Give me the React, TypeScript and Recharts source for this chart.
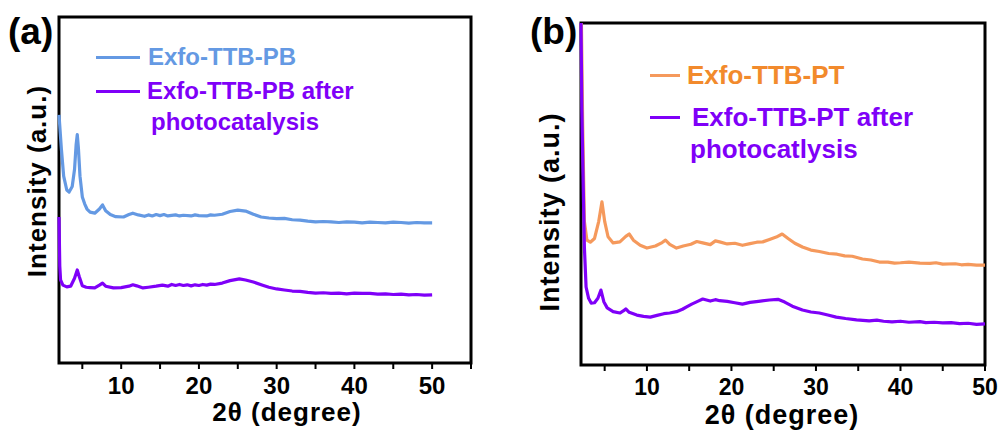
import React from "react";
import { LineChart, Line, XAxis, YAxis, ReferenceArea } from "recharts";

const FONT = "'Liberation Sans', Arial, sans-serif";

// panel (a): Exfo-TTB-PB
const pbX = [2.0, 2.3, 2.6, 3.0, 3.3, 3.7, 4.0, 4.2, 4.35, 4.5, 4.7, 5.0, 5.3, 5.6, 6.0, 6.6, 7.2, 7.6, 8.0, 8.6, 9.3, 10.3, 11.0, 11.5, 12.2, 13, 13.5, 14, 14.5, 15, 15.5, 16, 17, 17.5, 18, 19, 19.5, 20, 21, 21.5, 22, 23, 24, 25, 26, 27, 28, 29, 30, 31, 32, 33, 34, 35, 36, 37, 38, 39, 40, 41, 42, 43, 44, 45, 46, 47, 48, 49, 50];
const pbY = [71.7, 62, 54, 50, 49.4, 51, 56, 63, 66, 62, 54, 48, 46, 44.5, 43.6, 43.3, 44.5, 45.7, 44, 42.9, 42.3, 42.2, 42.9, 43.3, 42.8, 42.4, 42.8, 42.5, 42.9, 42.6, 42.9, 42.5, 42.8, 42.5, 42.7, 42.5, 42.8, 42.6, 42.5, 42.8, 42.7, 43.0, 43.8, 44.2, 43.9, 43.0, 42.2, 41.9, 41.7, 41.8, 41.4, 41.3, 41.0, 40.8, 40.9, 40.8, 40.6, 40.8, 40.7, 40.5, 40.7, 40.6, 40.5, 40.7, 40.6, 40.4, 40.6, 40.5, 40.5];

const pbAfterX = [2.0, 2.05, 2.1, 2.2, 2.5, 3.0, 3.5, 4.0, 4.35, 4.6, 5.0, 5.5, 6.0, 6.6, 7.2, 7.6, 8.0, 9.0, 10, 11.0, 11.5, 12.0, 12.8, 13.5, 14.5, 15.3, 16, 16.5, 17, 17.5, 18, 18.5, 19, 19.5, 20, 20.5, 21, 21.5, 22, 23, 24, 25.2, 26, 27, 28.2, 29, 30, 31, 32, 33, 34, 35, 36, 37, 38, 39, 40, 41, 42, 43, 44, 45, 46, 47, 48, 49, 50];
const pbAfterY = [42.2, 35, 28, 24, 22.5, 22.0, 22.2, 24.5, 26.9, 25, 22.3, 21.9, 21.8, 21.7, 22.5, 23.1, 22.2, 21.7, 21.8, 22.2, 22.6, 22.3, 21.7, 21.9, 22.2, 22.5, 22.2, 22.7, 22.4, 22.7, 22.4, 22.6, 22.3, 22.6, 22.4, 22.7, 22.5, 22.8, 22.7, 23.1, 23.8, 24.3, 24.0, 23.4, 22.5, 21.9, 21.4, 21.1, 20.8, 20.7, 20.4, 20.2, 20.3, 20.1, 20.2, 20.0, 20.2, 20.1, 20.1, 19.9, 20.0, 19.8, 19.9, 19.7, 19.8, 19.6, 19.7];

// panel (b): Exfo-TTB-PT
const ptX = [2.25, 2.4, 2.6, 2.9, 3.3, 3.8, 4.3, 4.68, 5.0, 5.4, 6.0, 6.8, 7.5, 7.9, 8.4, 9.2, 10, 11, 11.8, 12.2, 12.7, 13.5, 14.3, 15.2, 15.9, 16.6, 17.5, 18.1, 18.6, 19.5, 20.4, 21.3, 22.2, 23, 23.7, 24.5, 25.3, 26, 26.7, 27.5, 28.4, 29.4, 30.4, 31.5, 32.5, 33.4, 34.3, 35.5, 36.5, 37.5, 38.5, 39.3, 40, 41, 42.3, 43.5, 44.2, 45, 46.5, 47.2, 48, 49, 50];
const ptY = [100, 70, 42, 36.5, 35.9, 37, 42, 47.7, 42, 37.5, 35.7, 36, 37.6, 38.3, 36.5, 35, 34.2, 34.8, 35.8, 36.5, 35.3, 34.2, 34.8, 35.3, 36.1, 35.7, 35.2, 36.3, 36.0, 35.4, 35.6, 35.0, 35.5, 35.9, 36.0, 36.7, 37.4, 38.3, 37.0, 35.6, 34.5, 33.6, 33.2, 32.6, 32.4, 31.9, 31.8, 31.0, 30.7, 30.1, 30.1, 29.8, 29.9, 30.1, 29.8, 29.7, 29.9, 29.5, 29.6, 29.3, 29.4, 29.2, 29.2];

const ptAfterX = [2.2, 2.3, 2.45, 2.6, 2.8, 3.1, 3.4, 3.8, 4.2, 4.56, 4.9, 5.3, 6.0, 6.8, 7.2, 7.5, 7.9, 8.8, 9.6, 10.4, 11.2, 12, 12.7, 13.5, 14.2, 14.7, 15.3, 16, 16.6, 17.5, 18.1, 18.6, 19.5, 20.4, 21.3, 22.2, 23.2, 24.5, 25.5, 26.3, 27.2, 28.4, 29.4, 30.4, 31.4, 32.4, 33.5, 34.8, 36.3, 37.2, 38, 39, 40, 41, 42.3, 43, 44, 45, 46, 47, 48, 49, 50];
const ptAfterY = [100, 75, 54, 34.5, 22.8, 19.5, 18.1, 18.2, 19.5, 21.9, 18.5, 16.7, 15.6, 15.2, 15.8, 16.4, 15.4, 14.6, 14.2, 14.0, 14.5, 15.0, 15.2, 15.6, 16.3, 17.0, 17.8, 18.6, 19.3, 18.7, 19.1, 18.8, 18.6, 18.2, 17.8, 18.3, 18.6, 19.0, 19.2, 18.4, 17.2, 16.1, 15.5, 15.2, 14.6, 14.0, 13.6, 13.2, 12.9, 13.1, 12.8, 12.6, 12.8, 12.5, 12.7, 12.4, 12.5, 12.3, 12.4, 12.1, 12.2, 11.9, 12.0];

const ticksA = [5, 10, 15, 20, 25, 30, 35, 40, 45, 50, 55];
const ticksB = [5, 10, 15, 20, 25, 30, 35, 40, 45, 50];

const H = 433;
const AXIS_H = 30;
const TICK_LEN = 6; // px, pointing out of the frame
const TICK_MARGIN = 8;

const rows = (xs: number[], ys: number[]) => xs.map((x, i) => ({ x, y: ys[i] }));

type Series = { data: { x: number; y: number }[]; color: string };

// label every 10, and a short mark hanging under the frame for every tick
function makeTick(fontSize: number, axisY: number) {
  return (p: any) => {
    const v = p.payload.value;
    return (
      <g>
        <rect x={p.x - 1} y={axisY} width={2} height={TICK_LEN} fill="#000" />
        {v % 10 === 0 && (
          <text x={p.x} y={p.y} dy="0.71em" textAnchor="middle" fill="#000" fontSize={fontSize} fontWeight={700} fontFamily={FONT}>
            {v}
          </text>
        )}
      </g>
    );
  };
}

function Panel(props: {
  left: number;
  width: number;
  margin: { top: number; left: number; right: number; bottom: number };
  domain: [number, number];
  ticks: number[];
  tickFont: number;
  series: Series[];
}) {
  const m = props.margin;
  const axisY = H - m.bottom - AXIS_H;
  return (
    <div style={{ position: "absolute", left: props.left, top: 0 }}>
      <LineChart width={props.width} height={H} margin={m}>
        <XAxis
          xAxisId="b"
          type="number"
          dataKey="x"
          domain={props.domain}
          ticks={props.ticks}
          interval={0}
          tickSize={TICK_LEN}
          tickMargin={TICK_MARGIN}
          height={AXIS_H}
          axisLine={false}
          tickLine={false}
          tick={makeTick(props.tickFont, axisY)}
        />
        <YAxis yAxisId="l" type="number" domain={[0, 100]} hide width={0} />
        <ReferenceArea
          xAxisId="b"
          yAxisId="l"
          x1={props.domain[0]}
          x2={props.domain[1]}
          y1={0}
          y2={100}
          fill="none"
          fillOpacity={0}
          stroke="#000"
          strokeWidth={3}
          ifOverflow="visible"
        />
        {props.series.map((s, i) => (
          <Line
            key={i}
            xAxisId="b"
            yAxisId="l"
            data={s.data}
            dataKey="y"
            type="linear"
            stroke={s.color}
            strokeWidth={3.2}
            strokeLinejoin="round"
            dot={false}
            isAnimationActive={false}
          />
        ))}
      </LineChart>
    </div>
  );
}

function Txt(props: { x: number; y: number; size: number; color?: string; children: React.ReactNode; rotate?: boolean; center?: boolean; spacing?: number }) {
  const t = props.rotate
    ? "translate(-50%, -50%) rotate(-90deg)"
    : props.center
    ? "translate(-50%, -50%)"
    : "translateY(-50%)";
  return (
    <div
      style={{
        position: "absolute",
        left: props.x,
        top: props.y,
        transform: t,
        fontFamily: FONT,
        fontWeight: 700,
        fontSize: props.size,
        lineHeight: `${props.size}px`,
        color: props.color || "#000",
        whiteSpace: "nowrap",
        letterSpacing: props.spacing || 0,
      }}
    >
      {props.children}
    </div>
  );
}

function Swatch(props: { x: number; y: number; w: number; color: string }) {
  return <div style={{ position: "absolute", left: props.x, top: props.y - 1.5, width: props.w, height: 3, background: props.color }} />;
}

const BLUE = "#6499E3";
const PURPLE = "#7F00F8";
const ORANGE = "#F5995C";
const ORANGE_TXT = "#F28A2C";

export default function App() {
  return (
    <div style={{ position: "absolute", left: 0, top: 0, width: 1003, height: H, background: "#fff", overflow: "hidden" }}>
      <Panel
        left={0}
        width={480}
        margin={{ top: 17, left: 59, right: 9, bottom: 40 }}
        domain={[2, 55]}
        ticks={ticksA}
        tickFont={24}
        series={[
          { data: rows(pbX, pbY), color: BLUE },
          { data: rows(pbAfterX, pbAfterY), color: PURPLE },
        ]}
      />
      <Panel
        left={520}
        width={483}
        margin={{ top: 23, left: 61, right: 18, bottom: 38 }}
        domain={[2.2, 50]}
        ticks={ticksB}
        tickFont={23}
        series={[
          { data: rows(ptX, ptY), color: ORANGE },
          { data: rows(ptAfterX, ptAfterY), color: PURPLE },
        ]}
      />

      {/* panel (a) texts */}
      <Txt x={8} y={31} size={37}>(a)</Txt>
      <Txt x={37} y={181} size={26} rotate spacing={1}>Intensity (a.u.)</Txt>
      <Txt x={287} y={412} size={26} center spacing={1}>2θ (degree)</Txt>
      <Swatch x={96} y={57} w={44} color={BLUE} />
      <Txt x={148} y={57} size={24} color={BLUE}>Exfo-TTB-PB</Txt>
      <Swatch x={96} y={91} w={44} color={PURPLE} />
      <Txt x={147} y={91} size={24} color={PURPLE}>Exfo-TTB-PB after</Txt>
      <Txt x={151} y={122} size={24} color={PURPLE}>photocatalysis</Txt>

      {/* panel (b) texts */}
      <Txt x={530} y={31} size={37}>(b)</Txt>
      <Txt x={550} y={212} size={27} rotate spacing={1}>Intensity (a.u.)</Txt>
      <Txt x={782} y={415} size={27} center spacing={1}>2θ (degree)</Txt>
      <Swatch x={650} y={75} w={30} color={ORANGE} />
      <Txt x={687} y={75} size={26} color={ORANGE_TXT}>Exfo-TTB-PT</Txt>
      <Swatch x={650} y={117} w={30} color={PURPLE} />
      <Txt x={692} y={117} size={26} color={PURPLE}>Exfo-TTB-PT after</Txt>
      <Txt x={690} y={149} size={26} color={PURPLE}>photocatlysis</Txt>
    </div>
  );
}
